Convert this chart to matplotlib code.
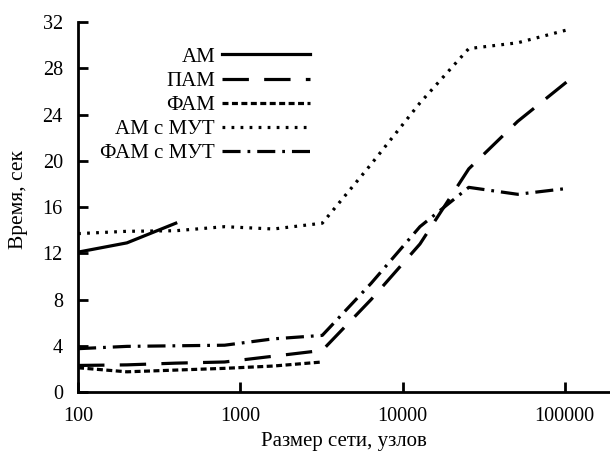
import matplotlib
matplotlib.use("Agg")
import matplotlib.pyplot as plt

# network sizes (nodes)
sizes = [100, 200, 400, 800, 1600, 3200, 6400, 12800, 25600, 51200, 102400]

# time, sec
am = [12.1, 12.9, 14.6]
pam = [2.3, 2.35, 2.5, 2.6, 3.1, 3.6, 8.0, 12.8, 19.3, 23.4, 26.8]
fam = [2.1, 1.75, 1.9, 2.05, 2.25, 2.6]
am_mut = [13.7, 13.9, 13.95, 14.3, 14.1, 14.6, 19.7, 25.0, 29.7, 30.2, 31.3]
fam_mut = [3.75, 3.95, 4.0, 4.05, 4.6, 4.9, 9.4, 14.3, 17.7, 17.1, 17.6]

labels = ["АМ", "ПАМ", "ФАМ", "АМ с МУТ", "ФАМ с МУТ"]
y_ticks = [0, 4, 8, 12, 16, 20, 24, 28, 32]
x_ticks = [100, 1000, 10000, 100000]

plt.rcParams["font.family"] = ["Liberation Serif", "DejaVu Serif"]
plt.rcParams["lines.scale_dashes"] = False

fig = plt.figure(figsize=(6.1, 4.58), dpi=100)
ax = fig.add_axes([0.128, 0.144, 0.872, 0.808])

lw = 2.3
ax.plot(sizes[:len(am)], am, color="black", lw=lw, label=labels[0])
ax.plot(sizes, pam, color="black", lw=lw, ls=(0, (19, 11)), label=labels[1])
ax.plot(sizes[:len(fam)], fam, color="black", lw=lw, ls=(0, (4.3, 2.5)), label=labels[2])
ax.plot(sizes, am_mut, color="black", lw=lw, ls=(0, (2, 4.5)), label=labels[3])
ax.plot(sizes, fam_mut, color="black", lw=lw, ls=(0, (13, 5, 2, 5)), label=labels[4])

ax.set_xscale("log")
ax.set_xlim(100, 190000)
ax.set_ylim(0, 32)
ax.set_xticks(x_ticks)
ax.set_xticklabels([str(v) for v in x_ticks])
ax.minorticks_off()
ax.set_yticks(y_ticks)

for side in ["top", "right"]:
    ax.spines[side].set_visible(False)
for side in ["left", "bottom"]:
    ax.spines[side].set_linewidth(2)

ax.tick_params(direction="in", length=7, width=2, labelsize=14.5, pad=11)

ax.set_xlabel("Размер сети, узлов", fontsize=15)
ax.xaxis.set_label_coords(0.5, -0.108)
ax.set_ylabel("Время, сек", fontsize=15.5)
ax.yaxis.set_label_coords(-0.095, 0.52)

ax.legend(loc="upper right", bbox_to_anchor=(0.508, 0.897),
          bbox_transform=fig.transFigure, frameon=False, markerfirst=False,
          fontsize=15, handlelength=4.2, handletextpad=0.35,
          labelspacing=0.22, borderpad=0, borderaxespad=0)

fig.savefig("out.png", dpi=100)
